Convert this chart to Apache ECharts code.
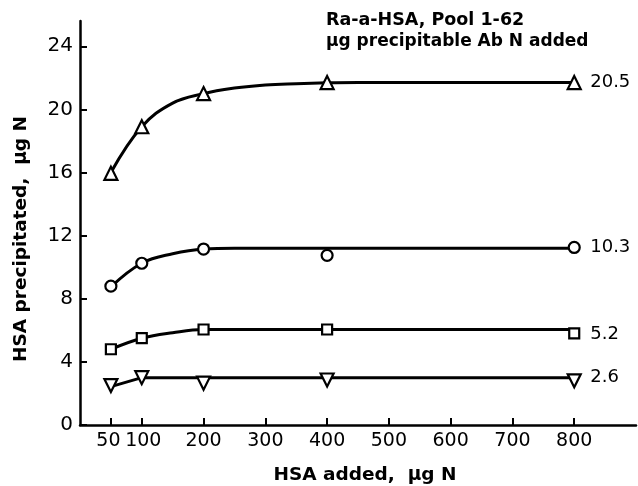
<!DOCTYPE html>
<html>
<head>
<meta charset="utf-8">
<script src="https://cdn.jsdelivr.net/npm/echarts@6/dist/echarts.min.js"></script>
<style>html,body{margin:0;padding:0;background:#fff}#c{width:638px;height:486px}</style>
</head>
<body>
<div id="c"></div>
<script>
// tick labels
var xTicks = [50, 100, 200, 300, 400, 500, 600, 700, 800];
var yTicks = [0, 4, 8, 12, 16, 20, 24];
// measured points (HSA added, HSA precipitated)
var ptsUp = [[50, 15.95], [100, 18.9], [200, 21.0], [400, 21.7], [800, 21.7]];
var ptsCircle = [[50, 8.8], [100, 10.25], [200, 11.15], [400, 10.75], [800, 11.25]];
var ptsSquare = [[50, 4.8], [100, 5.5], [200, 6.05], [400, 6.05], [800, 5.8]];
var ptsDown = [[50, 2.5], [100, 3.0], [200, 2.65], [400, 2.85], [800, 2.8]];
// drawn curves, every 50 units
var curveX = [50, 100, 150, 200, 250, 300, 350, 400, 450, 500, 550, 600, 650, 700, 750, 800];
var curveUp = [16.0, 18.9, 20.4, 21.0, 21.35, 21.55, 21.63, 21.68, 21.7, 21.7, 21.7, 21.7, 21.7, 21.7, 21.7, 21.7];
var curveCircle = [8.75, 10.25, 10.85, 11.15, 11.2, 11.2, 11.2, 11.2, 11.2, 11.2, 11.2, 11.2, 11.2, 11.2, 11.2, 11.2];
var curveSquare = [4.8, 5.5, 5.85, 6.05, 6.05, 6.05, 6.05, 6.05, 6.05, 6.05, 6.05, 6.05, 6.05, 6.05, 6.05, 6.05];
var curveDown = [2.43, 3.0, 3.0, 3.0, 3.0, 3.0, 3.0, 3.0, 3.0, 3.0, 3.0, 3.0, 3.0, 3.0, 3.0, 3.0];
// Ab N added labels
var abLabels = ['20.5', '10.3', '5.2', '2.6'];

var FONT = 'DejaVu Sans';
var chart = echarts.init(document.getElementById('c'));

function pairs(ys) { return curveX.map(function (x, i) { return [x, ys[i]]; }); }
function curve(ys, lbl, smooth, dy) {
  return {
    type: 'line', data: pairs(ys), smooth: smooth, showSymbol: false, symbol: 'none',
    lineStyle: { color: '#000', width: 3 }, silent: true, z: 2,
    endLabel: { show: true, formatter: lbl, distance: 16, offset: [0, dy || 0],
      color: '#000', fontFamily: FONT, fontSize: 18, fontWeight: 'normal' }
  };
}
function pts(data, symbol, size, rot) {
  return {
    type: 'scatter', data: data, symbol: symbol, symbolSize: size, symbolRotate: rot || 0,
    itemStyle: { color: '#fff', borderColor: '#000', borderWidth: 2.2, opacity: 1 }, z: 3
  };
}

chart.setOption({
  animation: false,
  grid: { left: 80, right: 2, top: 21, bottom: 61, containLabel: false },
  xAxis: {
    type: 'value', min: 0, max: 900,
    axisLine: { show: true, lineStyle: { color: '#000', width: 2.5 } },
    axisTick: { show: true, inside: true, length: 7, lineStyle: { color: '#000', width: 2 }, customValues: xTicks },
    axisLabel: {
      color: '#000', fontFamily: FONT, fontSize: 19, margin: 7, customValues: xTicks,
      formatter: function (v) { return v === 50 ? '{a|50}' : v === 100 ? '{b|100}' : String(v); },
      rich: {
        a: { fontFamily: FONT, fontSize: 19, color: '#000', padding: [0, 5, 0, 0] },
        b: { fontFamily: FONT, fontSize: 19, color: '#000', padding: [0, 0, 0, 3] }
      }
    },
    splitLine: { show: false }
  },
  yAxis: {
    type: 'value', min: 0, max: 25.6, interval: 4,
    axisLine: { show: true, lineStyle: { color: '#000', width: 2.5 } },
    axisTick: { show: true, inside: true, length: 7, lineStyle: { color: '#000', width: 2 }, customValues: yTicks },
    axisLabel: { color: '#000', fontFamily: FONT, fontSize: 20, margin: 7, customValues: yTicks },
    splitLine: { show: false }
  },
  graphic: [
    { type: 'text', left: 326, top: 11, style: { text: 'Ra-a-HSA, Pool 1-62', fill: '#000', font: 'bold 17.5px "DejaVu Sans"' } },
    { type: 'text', left: 326, top: 33, style: { text: '\u03bcg precipitable Ab N added', fill: '#000', font: 'bold 17px "DejaVu Sans"' } },
    { type: 'text', x: 365, y: 475, style: { text: 'HSA added,  \u03bcg N', fill: '#000', font: 'bold 18.5px "DejaVu Sans"', align: 'center', verticalAlign: 'middle' } },
    { type: 'text', x: 21, y: 239, rotation: Math.PI / 2, style: { text: 'HSA precipitated,  \u03bcg N', fill: '#000', font: 'bold 18.5px "DejaVu Sans"', align: 'center', verticalAlign: 'middle' } }
  ],
  series: [
    curve(curveUp, abLabels[0], 0.4, 0),
    curve(curveCircle, abLabels[1], 0.4, -1),
    curve(curveSquare, abLabels[2], 0.4, 5),
    curve(curveDown, abLabels[3], false, 0),
    pts(ptsUp, 'triangle', 13),
    pts(ptsCircle, 'circle', 11),
    pts(ptsSquare, 'rect', 10),
    pts(ptsDown, 'triangle', 13, 180)
  ]
});
</script>
</body>
</html>
